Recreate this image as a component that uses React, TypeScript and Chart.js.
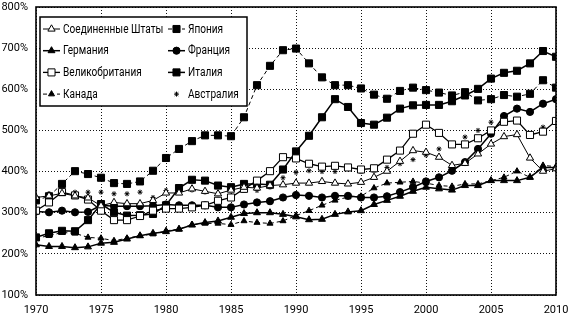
import React, { useEffect, useRef } from "react";
import { Chart, registerables } from "chart.js";
import { drawPoint } from "chart.js/helpers";

Chart.register(...registerables);

const years = Array.from({ length: 41 }, (_, i) => 1970 + i);

const usa = [337, 341, 347, 341, 336, 317, 325, 322, 322, 330, 348, 348, 358, 352, 346, 355, 362, 360, 366, 368, 372, 372, 376, 372, 370, 374, 386, 401, 425, 451, 447, 435, 415, 420, 443, 467, 485, 490, 433, 401, 407];
const germany = [222, 218, 218, 215, 217, 226, 228, 236, 244, 250, 254, 260, 270, 276, 280, 289, 298, 300, 300, 296, 290, 283, 284, 296, 302, 305, 320, 330, 340, 352, 362, 358, 355, 366, 366, 378, 378, 378, 386, 410, 410];
const uk = [305, 325, 350, 342, 332, 305, 282, 282, 292, 305, 310, 310, 313, 318, 329, 337, 358, 378, 401, 435, 432, 419, 412, 414, 410, 405, 408, 429, 451, 492, 514, 494, 466, 466, 481, 500, 521, 524, 489, 497, 523];
const canada = [238, 244, 252, 250, 240, 238, 232, 238, 244, 248, 256, 260, 271, 274, 274, 271, 280, 276, 274, 280, 293, 305, 318, 330, 338, 340, 360, 372, 374, 376, 372, 366, 364, 370, 370, 378, 386, 401, 386, 415, 412];
const japan = [330, 340, 370, 401, 394, 385, 372, 370, 376, 402, 433, 455, 474, 488, 488, 486, 532, 610, 657, 695, 699, 663, 629, 610, 610, 602, 587, 577, 596, 604, 598, 592, 585, 593, 573, 576, 586, 582, 589, 622, 604];
const france = [303, 301, 305, 301, 302, 318, 316, 316, 316, 317, 320, 318, 318, 318, 313, 313, 320, 325, 328, 337, 343, 341, 337, 341, 341, 337, 337, 340, 350, 362, 376, 386, 402, 423, 455, 492, 535, 553, 545, 565, 576];
const italy = [240, 250, 256, 255, 282, 321, 301, 293, 294, 297, 318, 360, 380, 378, 366, 362, 370, 370, 368, 405, 449, 487, 532, 576, 557, 518, 514, 531, 553, 561, 562, 562, 571, 585, 601, 626, 640, 645, 663, 693, 679];
const australia = [330, 346, 350, 350, 350, 350, 346, 346, 350, 337, 354, 350, 355, 350, 346, 341, 354, 354, 362, 385, 398, 402, 400, 400, 407, 400, 402, 410, 419, 429, 440, 455, 468, 484, 500, 520, 537, 555, 545, 508, 524];

const yTicks = [100, 200, 300, 400, 500, 600, 700, 800];
const xTicks = [1970, 1975, 1980, 1985, 1990, 1995, 2000, 2005, 2010];

const seriesNames = [
  "Соединенные Штаты",
  "Германия",
  "Великобритания",
  "Канада",
  "Япония",
  "Франция",
  "Италия",
  "Австралия",
];

const FONT = "Roboto, 'Liberation Sans', sans-serif";

const pts = (vals: number[]) => vals.map((v, i) => ({ x: years[i], y: v }));

const legendBox = {
  id: "legendBox",
  afterDraw(chart: any) {
    const { ctx, chartArea } = chart;
    const left = chartArea.left + 4;
    const top = chartArea.top + 10;
    const w = 207;
    const h = 89;
    ctx.save();
    ctx.fillStyle = "#fff";
    ctx.fillRect(left, top, w, h);
    ctx.strokeStyle = "#000";
    ctx.lineWidth = 1.5;
    ctx.strokeRect(left, top, w, h);
    chart.data.datasets.forEach((ds: any, k: number) => {
      const col = k < 4 ? 0 : 1;
      const row = k % 4;
      const cy = top + 12 + row * 21.7;
      const lx = left + 3 + col * 125;
      ctx.save();
      if (ds.showLine !== false) {
        ctx.strokeStyle = "#000";
        ctx.lineWidth = ds.borderWidth;
        ctx.setLineDash(ds.borderDash || []);
        ctx.beginPath();
        ctx.moveTo(lx, cy);
        ctx.lineTo(lx + 17, cy);
        ctx.stroke();
      }
      ctx.setLineDash([]);
      ctx.fillStyle = ds.pointBackgroundColor;
      ctx.strokeStyle = "#000";
      ctx.lineWidth = ds.pointBorderWidth;
      drawPoint(ctx, { pointStyle: ds.pointStyle, radius: ds.pointRadius, rotation: 0, borderWidth: ds.pointBorderWidth }, lx + 8.5, cy);
      ctx.restore();
      ctx.fillStyle = "#000";
      ctx.font = `12px ${FONT}`;
      ctx.textBaseline = "middle";
      ctx.textAlign = "left";
      const tw = ctx.measureText(ds.label).width;
      ctx.fillText(ds.label, lx + 20, cy + 0.5, tw * 0.84);
    });
    ctx.restore();
  },
};

const frameBox = {
  id: "frameBox",
  afterDatasetsDraw(chart: any) {
    const { ctx, chartArea } = chart;
    ctx.save();
    ctx.strokeStyle = "#000";
    ctx.lineWidth = 1.6;
    ctx.strokeRect(chartArea.left, chartArea.top, chartArea.right - chartArea.left, chartArea.bottom - chartArea.top);
    ctx.restore();
  },
};

export default function App() {
  const ref = useRef<HTMLCanvasElement | null>(null);
  useEffect(() => {
    if (!ref.current) return;
    const mk = (i: number, vals: number[], style: string, fill: string, r: number, dash: number[], bw: number, showLine = true) => ({
      label: seriesNames[i],
      data: pts(vals),
      borderColor: "#000",
      backgroundColor: fill,
      borderWidth: bw,
      borderDash: dash,
      pointStyle: style,
      pointRadius: r,
      pointBackgroundColor: fill,
      pointBorderColor: "#000",
      pointBorderWidth: 1,
      showLine,
      tension: 0,
    });
    const chart = new Chart(ref.current, {
      type: "line",
      data: {
        datasets: [
          mk(0, usa, "triangle", "#fff", 4.2, [], 1),
          mk(1, germany, "triangle", "#000", 4, [], 1.5),
          mk(2, uk, "rect", "#fff", 5, [], 1.3),
          mk(3, canada, "triangle", "#000", 3.5, [4, 3], 1),
          mk(4, japan, "rect", "#000", 5, [4, 3], 1),
          mk(5, france, "circle", "#000", 3.6, [], 1.5),
          mk(6, italy, "rect", "#000", 5, [], 1.5),
          mk(7, australia, "star", "#000", 2.5, [], 1, false),
        ] as any,
      },
      options: {
        animation: false,
        responsive: true,
        maintainAspectRatio: false,
        layout: { padding: { top: 7, right: 14, left: 0, bottom: 0 } },
        plugins: { legend: { display: false }, tooltip: { enabled: false } },
        scales: {
          x: {
            type: "linear",
            min: xTicks[0],
            max: xTicks[xTicks.length - 1],
            afterBuildTicks: (s: any) => {
              s.ticks = xTicks.map((v) => ({ value: v }));
            },
            afterFit: (s: any) => {
              s.height = 21;
              s.paddingLeft = 0;
              s.paddingRight = 0;
            },
            ticks: {
              callback: (v: any) => String(v),
              color: "#000",
              font: { family: FONT, size: 11 },
              padding: 9,
              maxRotation: 0,
              autoSkip: false,
            },
            grid: { color: "#111", lineWidth: 1, drawTicks: false },
            border: { display: false, dash: [1, 2] },
          },
          y: {
            min: yTicks[0],
            max: yTicks[yTicks.length - 1],
            afterBuildTicks: (s: any) => {
              s.ticks = yTicks.map((v) => ({ value: v }));
            },
            afterFit: (s: any) => {
              s.width = 36;
              s.paddingTop = 0;
              s.paddingBottom = 0;
            },
            ticks: {
              callback: (v: any) => `${v}%`,
              color: "#000",
              font: { family: FONT, size: 11 },
              padding: 8,
            },
            grid: { color: "#111", lineWidth: 1, drawTicks: false },
            border: { display: false, dash: [1, 2] },
          },
        },
      },
      plugins: [frameBox, legendBox],
    });
    return () => chart.destroy();
  }, []);
  return (
    <div style={{ position: "absolute", left: 0, top: 0, width: 570, height: 316, background: "#fff" }}>
      <canvas ref={ref} />
    </div>
  );
}
